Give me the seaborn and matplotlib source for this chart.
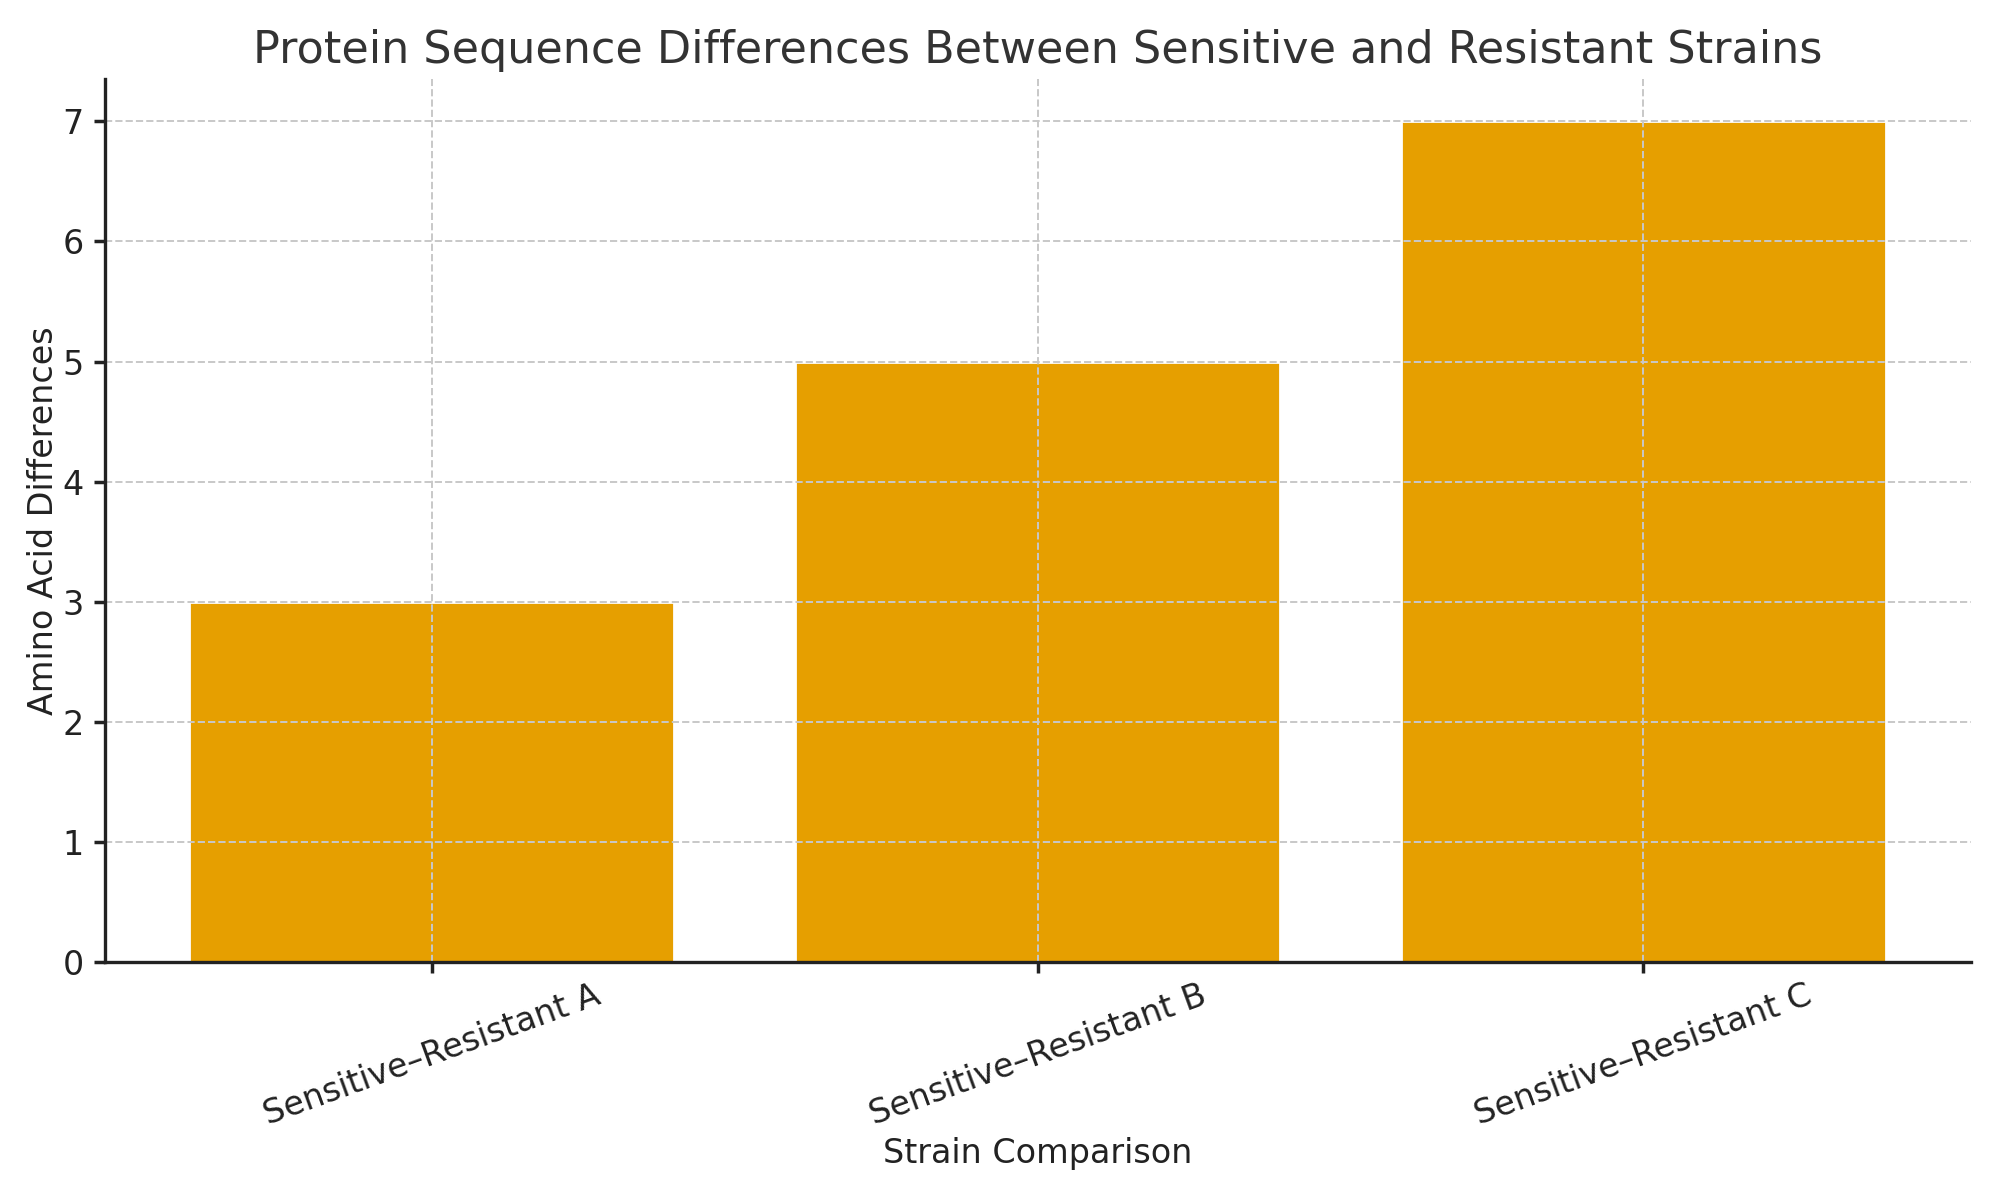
import pandas as pd
import seaborn as sns
import matplotlib.pyplot as plt

comparisons = ["Sensitive–Resistant A", "Sensitive–Resistant B", "Sensitive–Resistant C"]
differences = [3, 5, 7]

df = pd.DataFrame({"Comparison": comparisons, "Differences": differences})

sns.set_theme(style="white")
plt.rcParams["font.family"] = ["DejaVu Sans"]
plt.rcParams["text.color"] = "#333333"
plt.rcParams["axes.labelcolor"] = "#222222"

fig, ax = plt.subplots(figsize=(10, 6), dpi=200)
sns.barplot(data=df, x="Comparison", y="Differences", color="#E69F00",
            saturation=1, width=0.8, ax=ax)

ax.set_xlim(-0.54, len(comparisons) - 1 + 0.54)
ax.set_ylim(0, max(differences) * 1.05)
ax.set_axisbelow(False)
ax.grid(True, linestyle="--", color="#c8c8c8", linewidth=0.7)

ax.set_title("Protein Sequence Differences Between Sensitive and Resistant Strains",
             fontsize=16, color="#333333")
ax.set_xlabel("Strain Comparison", fontsize=12, labelpad=2)
ax.set_ylabel("Amino Acid Differences", fontsize=12, labelpad=1)
ax.tick_params(axis="both", labelsize=12, colors="#222222", length=4, direction="out",
               bottom=True, left=True)
ax.tick_params(axis="x", pad=2)
plt.setp(ax.get_xticklabels(), rotation=20, ha="center")

sns.despine(ax=ax)
for s in ["left", "bottom"]:
    ax.spines[s].set_color("#222222")
    ax.spines[s].set_linewidth(1.2)
    ax.spines[s].set_zorder(5)

fig.subplots_adjust(left=0.0523, right=0.9853, top=0.934, bottom=0.198)
fig.savefig("out.png", dpi=200)
